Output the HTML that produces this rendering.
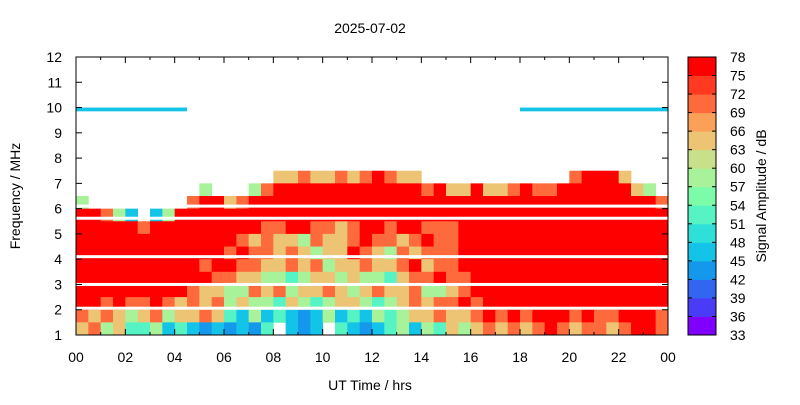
<!DOCTYPE html>
<html><head><meta charset="utf-8"><style>
body{margin:0;background:#fff;font-family:"Liberation Sans",sans-serif}
svg text{font-family:"Liberation Sans",sans-serif;fill:#000}
</style></head><body>
<svg id="c" width="800" height="400" xmlns="http://www.w3.org/2000/svg">
<text x="370" y="33" font-size="14" text-anchor="middle">2025-07-02</text>
<text x="370" y="390" font-size="14" text-anchor="middle">UT Time / hrs</text>
<text transform="translate(20,196) rotate(-90)" font-size="14" text-anchor="middle">Frequency / MHz</text>
<text transform="translate(766,196) rotate(-90)" font-size="14" text-anchor="middle">Signal Amplitude / dB</text>
<g id="cells"></g>
<g id="axes"></g>
<g id="cbar"></g>
</svg>
<script>
const timeBins = 48; // half-hour columns 00-24
const freqMin = 1, freqMax = 12;
const gridRows = [
"................................................",
"................................................",
"................................................",
"................................................",
"................................................",
"................................................",
"................................................",
"................................................",
"................................................",
"........."+"......."+"yyoyyoyoroyy"+".."+".........."+"orrry"+"...",
"........."+"."+"g..."+"go"+"rrrrrrrrrrrr"+"or"+"yyryyo"+"roor"+"rrrrr"+"yg.",
"g........"+"orryo"+"rrrrrrrrrrrrrrrrrrrrrrrrrrrrrrrrr"+"o",
"rrogc.cg"+"rrrrrrrrrrrrrrrrrrrrrrrrrrrrrrrrrrrrrrrr",
"rrrrrorr"+"rrrrrr"+"roorrooyorrorrooo"+"rrrrrrrrrrrrrrrrr",
"rrrrrrrr"+"rrrrr"+"oyoyygoyyorooyoro"+"orr"+"rrrrrrrrrrrrrrr",
"rrrrrrrr"+"rrrr"+"orooyoygyyroygoyoo"+"or"+"rrrrrrrrrrrrrrrr",
"rrrrrrrr"+"rro"+"rrooyyoyogyyoyyoryoo"+"rr"+"rrrrrrrrrrrrrrr",
"rrrrrrrr"+"rrroo"+"yyggtgyygyggtyo"+"oroor"+"rrrrrrrrrrrrrrr",
"rrrrrrr"+"rroyy"+"ggoyogyyoygyoyyo"+"ggyor"+"rrrrrrrrrrrrrrr",
"rroroor"+"oyoyo"+"gyggtygtgyygtgy"+"oyoor"+"orrrrrrrrrrrrrrr",
"oyoygyo"+"gyyoy"+"tcgctcbcgctcgt"+"gyyoy"+"yo"+"rororrroroorrro",
"yogyttg"+"ctcbc"+"bcbt.cbc.tcbct"+"gcgty"+"gy"+"oyoyoroyooyorro"
];
const levelChars = ["r","o","y","g","t","c","b"];
const levelValues = [77,70,65,58,52,47,43];
// thin band of echoes just below 10 MHz: [startHour, endHour]
const bandStarts = [0, 18];
const bandEnds = [4.5, 24];
const bandValue = 46;
const gapFreqs = [6.1,5.62,4.1,3.0,2.06];
const xTickLabels = ["00","02","04","06","08","10","12","14","16","18","20","22","00"];
const yTickLabels = [1,2,3,4,5,6,7,8,9,10,11,12];
const cbarTicks = [78,75,72,69,66,63,60,57,54,51,48,45,42,39,36,33];
const cbarColors = ["#8000ff","#4a3cf6","#3266f2","#1498ec","#14c4e8","#2ee0d8","#56f4c4","#7cfca8","#a8f29a","#c8e08a","#ecc474","#fba058","#ff6a3c","#ff3a20","#ff0000"];

const X0=76,X1=668,Y0=57,Y1=335;
const xs = h => X0 + h/24*(X1-X0);
const ys = f => Y1 - (f-freqMin)/(freqMax-freqMin)*(Y1-Y0);
const dbMin=33, dbMax=78;
const color = v => cbarColors[Math.max(0,Math.min(14,Math.floor((v-dbMin)/3)))];
const NS="http://www.w3.org/2000/svg";
function mk(t,a,p){const e=document.createElementNS(NS,t);for(const k in a)e.setAttribute(k,a[k]);p.appendChild(e);return e;}
const cells=document.getElementById('cells');
const nRows=gridRows.length, df=(freqMax-freqMin)/nRows;
gridRows.forEach((row,ri)=>{
  for(let ti=0;ti<timeBins;ti++){
    const ch=row[ti]; const li=levelChars.indexOf(ch); if(li<0) continue;
    const fTop=freqMax-ri*df;
    const x=xs(ti*0.5), w=xs((ti+1)*0.5)-x, y=ys(fTop), h=ys(fTop-df)-y;
    const r=mk('rect',{x:x,y:y,width:w+0.4,height:h+0.4,fill:color(levelValues[li])},cells);
    
    
  }
});
bandStarts.forEach((s,i)=>{
  const r=mk('rect',{x:xs(s),y:ys(10),width:xs(bandEnds[i])-xs(s),height:ys(9.85)-ys(10),fill:color(bandValue)},cells);
  
  
});
gapFreqs.forEach(f=>{
  const r=mk('rect',{x:X0,y:ys(f)-1.5,width:X1-X0,height:3,fill:'#fff'},cells);
  
  
});
const ax=document.getElementById('axes');
mk('rect',{x:X0,y:Y0,width:X1-X0,height:Y1-Y0,fill:'none',stroke:'#000','stroke-width':1},ax);
xTickLabels.forEach((l,i)=>{
  const x=xs(i*2);
  mk('line',{x1:x,x2:x,y1:Y1,y2:Y1-6,stroke:'#000'},ax);
  mk('line',{x1:x,x2:x,y1:Y0,y2:Y0+6,stroke:'#000'},ax);
  if(i<12){const xm=xs(i*2+1);mk('line',{x1:xm,x2:xm,y1:Y1,y2:Y1-3,stroke:'#000'},ax);mk('line',{x1:xm,x2:xm,y1:Y0,y2:Y0+3,stroke:'#000'},ax);}
  const t=mk('text',{x:x,y:362,'font-size':14,'text-anchor':'middle'},ax);t.textContent=l;
  
  
});
yTickLabels.forEach(v=>{
  const y=ys(v);
  mk('line',{x1:X0,x2:X0+6,y1:y,y2:y,stroke:'#000'},ax);
  mk('line',{x1:X1,x2:X1-6,y1:y,y2:y,stroke:'#000'},ax);
  const t=mk('text',{x:62,y:y+5,'font-size':14,'text-anchor':'end'},ax);t.textContent=v;
  
  
});
const cb=document.getElementById('cbar');
const CX=688,CW=28;
const cy=v=>Y1-(v-dbMin)/(dbMax-dbMin)*(Y1-Y0);
cbarColors.forEach((c,i)=>{
  const v=dbMin+3*i;
  const r=mk('rect',{x:CX,y:cy(v+3),width:CW,height:cy(v)-cy(v+3)+0.5,fill:c},cb);
  
  
});
mk('rect',{x:CX,y:Y0,width:CW,height:Y1-Y0,fill:'none',stroke:'#000'},cb);
cbarTicks.forEach(v=>{
  const y=cy(v);
  mk('line',{x1:CX,x2:CX+4,y1:y,y2:y,stroke:'#000'},cb);
  mk('line',{x1:CX+CW,x2:CX+CW-4,y1:y,y2:y,stroke:'#000'},cb);
  const t=mk('text',{x:730,y:y+5,'font-size':14},cb);t.textContent=v;
  
  
});
</script>
</body></html>
